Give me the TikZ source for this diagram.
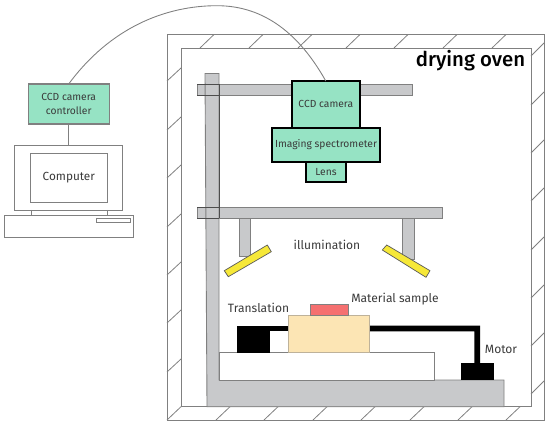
\documentclass[tikz,border=0pt]{standalone}
\usepackage{fontspec}
\setmainfont{Fira Sans}
\newfontfamily\rotulo{Fira Sans Medium}
\usepackage{xcolor}
\definecolor{verdec}{HTML}{96E3C4}
\definecolor{gris}{HTML}{C8C9CB}
\definecolor{lineag}{HTML}{808080}
\definecolor{amarillo}{HTML}{F6E838}
\definecolor{crema}{HTML}{FCE5B4}
\definecolor{rojoc}{HTML}{F57070}
\definecolor{texto}{HTML}{3A3A3A}
\tikzset{
  thinbox/.style={draw=lineag,line width=0.45pt,fill=white,inner sep=0pt,outer sep=0pt},
  greenbox/.style={draw=black,line width=1.1pt,fill=verdec,inner sep=0pt,outer sep=0pt,text=texto,font=\fontsize{5.85}{7}\selectfont,align=center},
  barra/.style={draw=lineag,line width=0.5pt,fill=gris},
  lampara/.style={draw=lineag!70!black,line width=0.4pt,fill=amarillo},
  solido/.style={fill=black,draw=none},
  etiqueta/.style={text=texto,inner sep=0pt,font=\fontsize{6.85}{8}\selectfont},
  hatchline/.style={draw=lineag,line width=0.45pt},
}
\begin{document}
\begin{tikzpicture}[x=0.02cm,y=-0.02cm,line cap=butt]
  \useasboundingbox (0,0) rectangle (550,425);
  % --- horno ---
  \draw[thinbox] (167,34.5) rectangle (544,420);
  \draw[thinbox] (181,48) rectangle (531,406.7);
  \foreach \x in {200,249,298,346,394,443,492}
    \draw[hatchline] (\x,48) -- ++(14,-13.5);
  \foreach \y in {81,130,178,227,275,323,372}
    \draw[hatchline] (167,\y) -- ++(14,-13);
  \foreach \y in {56,105,153,201,250,298,346,394}
    \draw[hatchline] (531,\y) -- ++(13,-13);
  \foreach \x in {167,216,264,313,361,410,458,506}
    \draw[hatchline] (\x,420) -- ++(14,-13.3);
  % --- soportes ---
  \draw[barra] (197,84.3) rectangle (412.7,95.7);
  \draw[barra] (197,207) rectangle (442.7,218);
  \draw[barra] (239,218) rectangle (250.7,256);
  \draw[barra] (402.7,218) rectangle (414.7,259);
  \draw[barra] (205,73.5) -- (219,73.5) -- (219,380) -- (504,380)
    -- (504,406.7) -- (207,406.7) -- cycle;
  \draw[lineag!60!black,line width=0.4pt] (197,84.3) -- (219,84.3) (197,95.7) -- (219,95.7)
    (197,207) -- (219,207) (197,218) -- (219,218) (219,84.3) -- (219,218);
  \draw[lampara] (224.3,270.7) -- (267.3,245) -- (271.3,251.7) -- (228.3,276.7) -- cycle;
  \draw[lampara] (382.3,250) -- (386.7,245) -- (430,270.7) -- (426,277.3) -- cycle;
  % --- mesa de traslacion ---
  \draw[thinbox] (219,352.7) rectangle (434.3,380);
  \fill[solido] (237.3,325.7) rectangle (270,352.7);
  \fill[solido] (270,325.7) rectangle (290,331.3);
  \fill[solido] (368,325.7) -- (480,325.7) -- (480,364) -- (474.3,364)
    -- (474.3,331.3) -- (368,331.3) -- cycle;
  \fill[solido] (461,363.3) rectangle (493.7,380);
  \draw[draw=lineag!50!crema,line width=0.4pt,fill=crema] (288.3,315.3) rectangle (369.3,352.7);
  \draw[draw=lineag,line width=0.4pt,fill=rojoc] (310,304) rectangle (348,315.3);
  % --- camara ---
  \node[greenbox,minimum width=1.356cm,minimum height=0.934cm] (camara) at (325.8,104.4) {\raisebox{-1.2pt}{CCD camera}};
  \node[greenbox,minimum width=2.16cm,minimum height=0.674cm] (espectro) at (326,145) {\raisebox{-0.5pt}{Imaging spectrometer}};
  \node[greenbox,minimum width=0.8cm,minimum height=0.4cm] (lente) at (326,172) {\raisebox{-0.5pt}{Lens}};
  % --- ordenador ---
  \node[greenbox,draw=lineag,line width=0.6pt,minimum width=1.614cm,minimum height=0.8cm] (control) at (68.7,104) {CCD camera\\[0.6pt]controller};
  \node[thinbox,minimum width=2.16cm,minimum height=1.286cm] (monitor) at (68.7,177.9) {};
  \node[thinbox,minimum width=1.526cm,minimum height=0.966cm,text=texto,font=\fontsize{6.7}{8}\selectfont] (pantalla) at (68.8,177.9) {\raisebox{-1.2pt}{Computer}};
  \node[thinbox,minimum width=2.594cm,minimum height=0.44cm] (teclado) at (68.8,226.7) {};
  \node[thinbox,minimum width=0.68cm,minimum height=0.066cm] (ranura) at (113.7,220.4) {};
  \draw[lineag,line width=0.45pt] (31,210) -- (31,215.7) (107,210) -- (107,215.7);
  \coordinate (cima) at (217,5.7);
  \draw[lineag,line width=0.55pt] (control) -- (monitor);
  \draw[lineag,line width=0.5pt] (control.north) .. controls (110,28) and (165,5.7) .. (cima)
    .. controls (265,5.7) and (300,35) .. (camara.north);
  % --- etiquetas ---
  \node[inner sep=0pt,text=black,font=\fontsize{11.6}{13}\selectfont\rotulo] (horno) at (470.5,61) {drying oven};
  \node[etiqueta] (luz) at (327,245) {illumination};
  \node[etiqueta] (trasl) at (258.5,308) {Translation};
  \node[etiqueta] (muestra) at (395,299) {Material sample};
  \node[etiqueta] (motor) at (501,349) {Motor};
\end{tikzpicture}
\end{document}
